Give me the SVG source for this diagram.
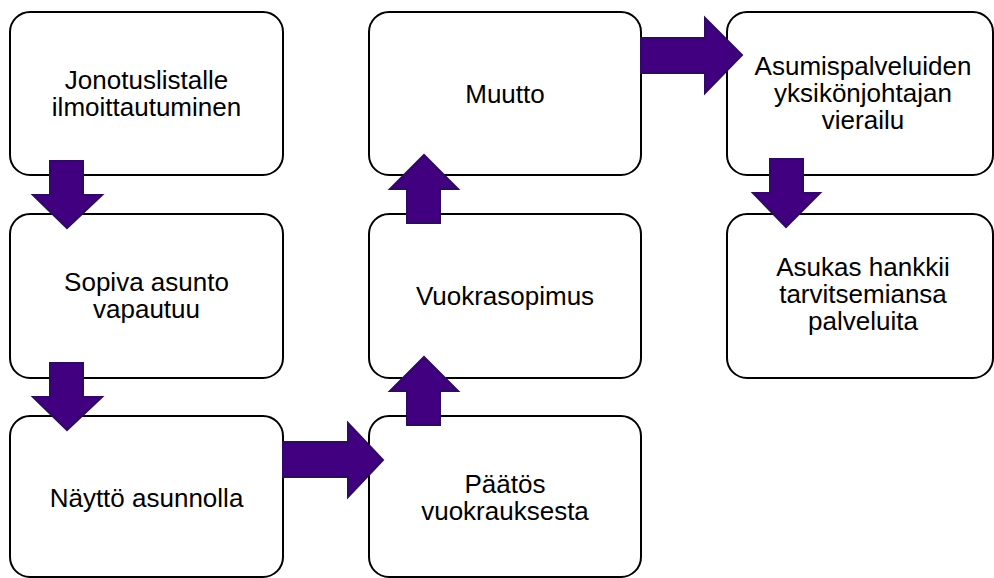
<svg xmlns="http://www.w3.org/2000/svg" width="994" height="578" viewBox="0 0 994 578">
<style>
.box{fill:#fff;stroke:#000;stroke-width:2}
.t{font-family:"Liberation Sans",Arial,sans-serif;font-size:26px;fill:#000;text-anchor:middle}
.arr{fill:#400080;stroke:#2e0a62;stroke-width:2;stroke-linejoin:miter}
</style>
<rect width="994" height="578" fill="#fff"/>
<g id="n1"><rect class="box" x="10" y="12" width="273" height="163" rx="20"/><text class="t" x="146.5"><tspan x="146.5" y="89">Jonotuslistalle</tspan><tspan x="146.5" y="116">ilmoittautuminen</tspan></text></g>
<g id="n2"><rect class="box" x="10" y="214" width="273" height="164" rx="20"/><text class="t"><tspan x="146.5" y="291">Sopiva asunto</tspan><tspan x="146.5" y="318">vapautuu</tspan></text></g>
<g id="n3"><rect class="box" x="10" y="416" width="273" height="161" rx="20"/><text class="t" x="146.5" y="507">Näyttö asunnolla</text></g>
<g id="n4"><rect class="box" x="369" y="416" width="272" height="161" rx="20"/><text class="t"><tspan x="505" y="493">Päätös</tspan><tspan x="505" y="520">vuokrauksesta</tspan></text></g>
<g id="n5"><rect class="box" x="369" y="214" width="272" height="164" rx="20"/><text class="t" x="505" y="305">Vuokrasopimus</text></g>
<g id="n6"><rect class="box" x="369" y="12" width="272" height="163" rx="20"/><text class="t" x="505" y="103">Muutto</text></g>
<g id="n7"><rect class="box" x="727" y="12" width="266" height="163" rx="20"/><text class="t"><tspan x="863" y="75">Asumispalveluiden</tspan><tspan x="863" y="102">yksikönjohtajan</tspan><tspan x="863" y="129">vierailu</tspan></text></g>
<g id="n8"><rect class="box" x="727" y="214" width="266" height="164" rx="20"/><text class="t"><tspan x="863" y="276">Asukas hankkii</tspan><tspan x="863" y="303">tarvitsemiansa</tspan><tspan x="863" y="330">palveluita</tspan></text></g>
<g id="connectors">
<polygon class="arr" points="50,161 83,161 83,195 102,195 67,228 33,195 50,195"/>
<polygon class="arr" points="50,363 83,363 83,397 102,397 67,430 33,397 50,397"/>
<polygon class="arr" points="283,442 348,442 348,423 383,460 348,497 348,477 283,477"/>
<polygon class="arr" points="407,425 440,425 440,391 458,391 424,357 390,391 407,391"/>
<polygon class="arr" points="407,223 440,223 440,189 458,189 424,155 390,189 407,189"/>
<polygon class="arr" points="641,38 705,38 705,18 742,55 705,93 705,73 641,73"/>
<polygon class="arr" points="770,159 803,159 803,193 820,193 786,227 753,193 770,193"/>
</g>
</svg>
